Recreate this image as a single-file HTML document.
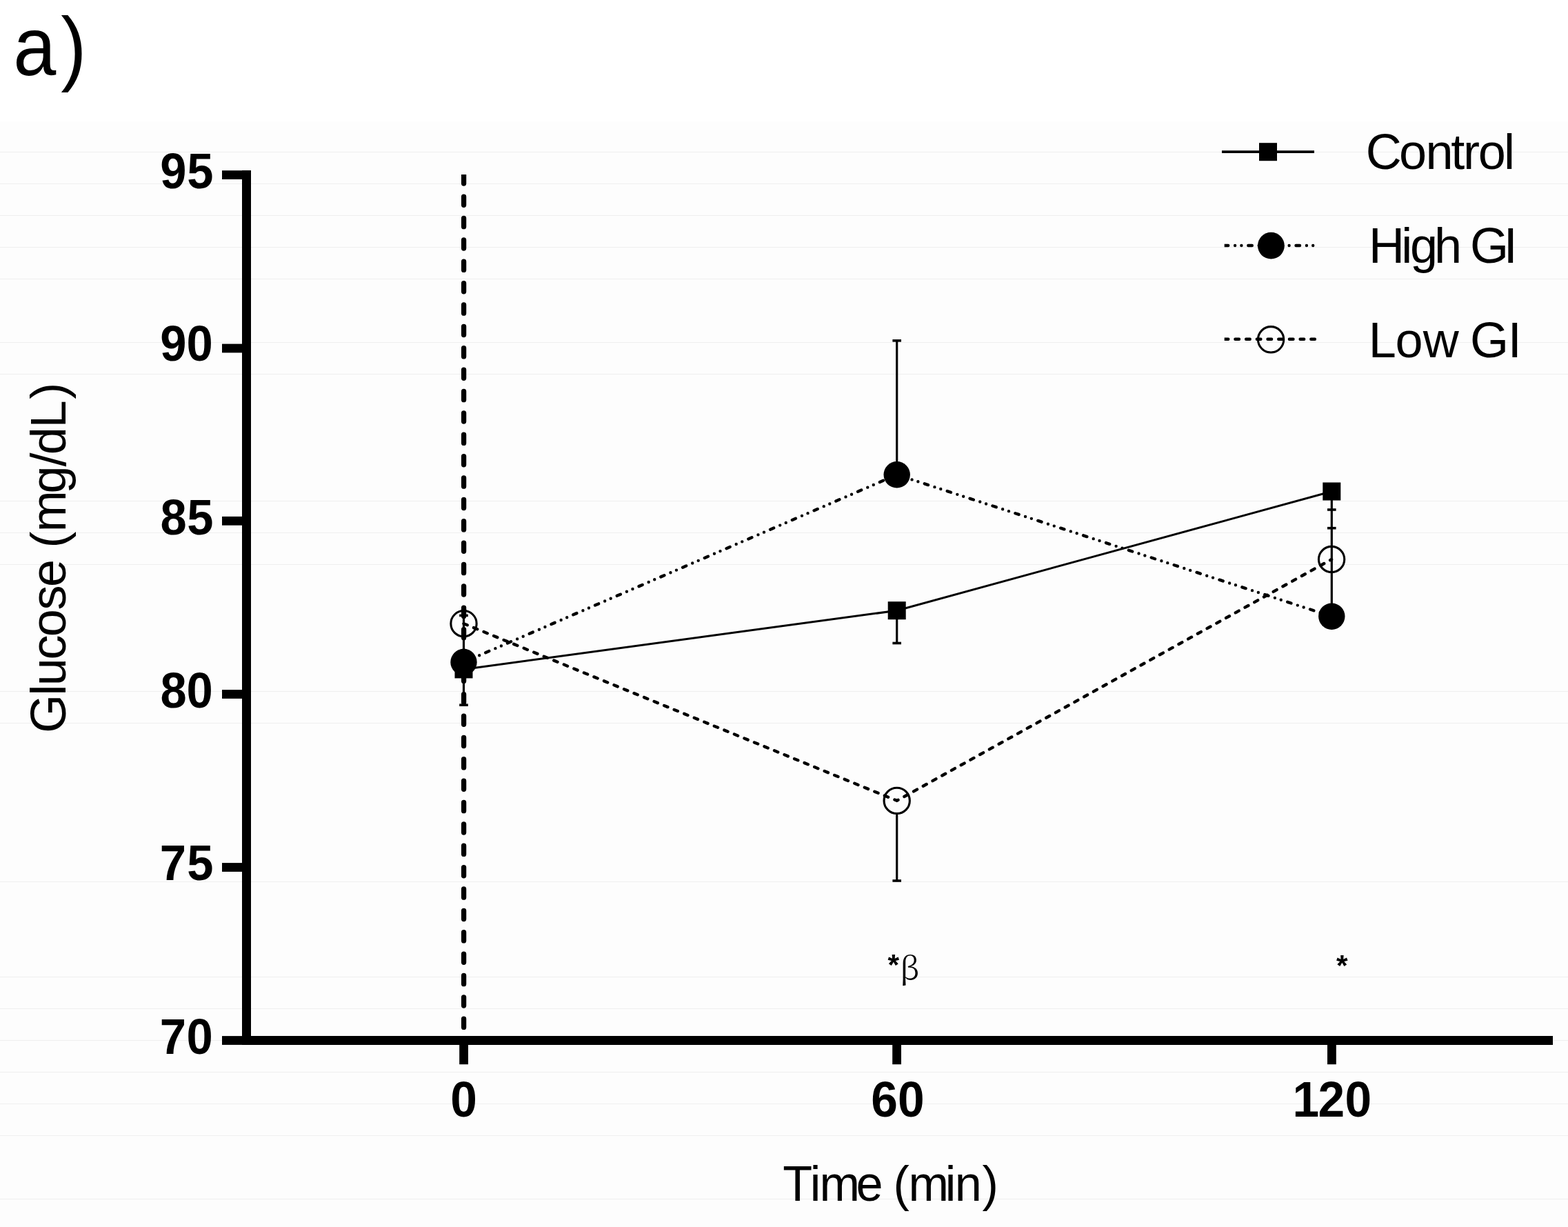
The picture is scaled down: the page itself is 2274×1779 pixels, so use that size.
<!DOCTYPE html><html><head><meta charset="utf-8"><title>Glucose</title><style>html,body{margin:0;padding:0;background:#fdfdfd;}svg{display:block;}</style></head><body>
<svg width="2274" height="1779" viewBox="0 0 2274 1779">
<rect width="2274" height="1779" fill="#fdfdfd"/>
<rect width="2274" height="176" fill="#ffffff"/>
<rect x="0" y="220" width="2274" height="1" fill="#efefef"/>
<rect x="0" y="266" width="2274" height="1" fill="#efefef"/>
<rect x="0" y="312" width="2274" height="1" fill="#efefef"/>
<rect x="0" y="358" width="2274" height="1" fill="#efefef"/>
<rect x="0" y="404" width="2274" height="1" fill="#efefef"/>
<rect x="0" y="496" width="2274" height="1" fill="#efefef"/>
<rect x="0" y="542" width="2274" height="1" fill="#efefef"/>
<rect x="0" y="726" width="2274" height="1" fill="#efefef"/>
<rect x="0" y="772" width="2274" height="1" fill="#efefef"/>
<rect x="0" y="818" width="2274" height="1" fill="#efefef"/>
<rect x="0" y="1002" width="2274" height="1" fill="#efefef"/>
<rect x="0" y="1048" width="2274" height="1" fill="#efefef"/>
<rect x="0" y="1278" width="2274" height="1" fill="#efefef"/>
<rect x="0" y="1416" width="2274" height="1" fill="#efefef"/>
<rect x="0" y="1462" width="2274" height="1" fill="#efefef"/>
<rect x="0" y="1508" width="2274" height="1" fill="#efefef"/>
<rect x="0" y="1554" width="2274" height="1" fill="#efefef"/>
<rect x="0" y="1600" width="2274" height="1" fill="#efefef"/>
<rect x="0" y="1646" width="2274" height="1" fill="#efefef"/>
<rect x="0" y="1738" width="2274" height="1" fill="#efefef"/>
<text x="18.8 93.2" y="109.2" font-family='"Liberation Sans", Arial, sans-serif' font-weight="normal" font-size="120"  transform="matrix(0.93,0,0,1,1.67,0)">a)</text>
<g fill="#000">
<rect x="351" y="247" width="13" height="1268"/>
<rect x="351" y="1502" width="1901" height="13"/>
<rect x="322" y="247.2" width="42" height="12.8"/>
<rect x="322" y="498.6" width="42" height="12.8"/>
<rect x="322" y="748.9" width="42" height="12.8"/>
<rect x="322" y="1000.1" width="42" height="12.8"/>
<rect x="322" y="1251.1" width="42" height="12.8"/>
<rect x="322" y="1502.1" width="42" height="12.8"/>
<rect x="666.2" y="1514" width="12.8" height="29.2"/>
<rect x="1294.2" y="1514" width="12.8" height="29.2"/>
<rect x="1925" y="1514" width="12.8" height="29.2"/>
</g>
<text x="232.1 272.91" y="272.6" font-family='"Liberation Sans", Arial, sans-serif' font-weight="bold" font-size="72"  transform="matrix(0.955,0,0,1,10.56,0)">95</text>
<text x="232.1 272.28" y="523.4" font-family='"Liberation Sans", Arial, sans-serif' font-weight="bold" font-size="72"  transform="matrix(0.955,0,0,1,10.56,0)">90</text>
<text x="232.31 272.91" y="774.8" font-family='"Liberation Sans", Arial, sans-serif' font-weight="bold" font-size="72"  transform="matrix(0.955,0,0,1,10.56,0)">85</text>
<text x="232.31 272.28" y="1025.7" font-family='"Liberation Sans", Arial, sans-serif' font-weight="bold" font-size="72"  transform="matrix(0.955,0,0,1,10.56,0)">80</text>
<text x="231.51 272.91" y="1276" font-family='"Liberation Sans", Arial, sans-serif' font-weight="bold" font-size="72"  transform="matrix(0.955,0,0,1,10.56,0)">75</text>
<text x="231.51 272.28" y="1527.6" font-family='"Liberation Sans", Arial, sans-serif' font-weight="bold" font-size="72"  transform="matrix(0.955,0,0,1,10.56,0)">70</text>
<text x="653.15" y="1619.5" font-family='"Liberation Sans", Arial, sans-serif' font-weight="bold" font-size="72"  transform="matrix(0.965,0,0,1,22.96,0)">0</text>
<text x="1263.06 1303.37" y="1619.5" font-family='"Liberation Sans", Arial, sans-serif' font-weight="bold" font-size="72"  transform="matrix(0.965,0,0,1,44.3,0)">60</text>
<text x="1874.36 1912.78 1953.15" y="1619.5" font-family='"Liberation Sans", Arial, sans-serif' font-weight="bold" font-size="72"  transform="matrix(0.965,0,0,1,65.76,0)">120</text>
<text x="1135.18 1175.78 1189.86 1244.31 1284.35 1299.62 1322.17 1376.8 1391.2 1431.97" y="1740.7" font-family='"Liberation Sans", Arial, sans-serif' font-weight="normal" font-size="72"  transform="matrix(0.975,0,0,1,28.42,0)">Time (min)</text>
<g transform="translate(94.5,0) rotate(-90)"><text x="-1062.72 -1008.55 -994.28 -956.46 -923.32 -884.4 -850.96 -810.92 -794.56 -771.28 -715.42 -676.6 -659.22 -620.61 -578.82" y="0" font-family='"Liberation Sans", Arial, sans-serif' font-weight="normal" font-size="72" >Glucose (mg/dL)</text></g>
<clipPath id="cv"><rect x="600" y="253" width="150" height="1300"/></clipPath>
<line x1="672.6" y1="253" x2="672.6" y2="1490" stroke="#000" stroke-width="7.3" stroke-linecap="round" stroke-dasharray="12.2 19.17" stroke-dashoffset="-0.78" clip-path="url(#cv)"/>
<g stroke="#000" stroke-width="3.2" fill="none">
<line x1="672.5" y1="892.4" x2="672.5" y2="1022.2"/>
<line x1="1300.7" y1="493.9" x2="1300.7" y2="688"/>
<line x1="1300.7" y1="885" x2="1300.7" y2="932.5"/>
<line x1="1300.7" y1="1180" x2="1300.7" y2="1277"/>
<line x1="1931.3" y1="712" x2="1931.3" y2="894"/>
</g>
<g stroke="#000" stroke-width="3.6">
<line x1="666.2" y1="892.4" x2="678.8" y2="892.4"/>
<line x1="666.2" y1="1022.2" x2="678.8" y2="1022.2"/>
<line x1="1294.4" y1="493.9" x2="1307" y2="493.9"/>
<line x1="1294.4" y1="932.5" x2="1307" y2="932.5"/>
<line x1="1294.4" y1="1277" x2="1307" y2="1277"/>
<line x1="1925" y1="739" x2="1937.6" y2="739"/>
<line x1="1925" y1="765.7" x2="1937.6" y2="765.7"/>
</g>
<polyline points="672.5,970.4 1300.7,885.2 1931.3,712.5" fill="none" stroke="#000" stroke-width="3"/>
<polyline points="672.5,960 1300.7,688.3 1931.3,893.7" fill="none" stroke="#000" stroke-width="4.4" stroke-linecap="round" stroke-dasharray="5.5 9.9 0 9.3 0 9.9"/>
<polyline points="672.5,904.2 1300.7,1160.9 1931.1,811" fill="none" stroke="#000" stroke-width="4.4" stroke-linecap="round" stroke-dasharray="5.6 10.1"/>
<rect x="659.5" y="957.4" width="26" height="26" fill="#000"/>
<rect x="1287.7" y="872.2" width="26" height="26" fill="#000"/>
<rect x="1918.3" y="699.5" width="26" height="26" fill="#000"/>
<circle cx="672.5" cy="960" r="19.2" fill="#000"/>
<circle cx="1300.7" cy="688.3" r="19.2" fill="#000"/>
<circle cx="1931.3" cy="893.7" r="19.2" fill="#000"/>
<circle cx="672.5" cy="904.2" r="18.65" fill="none" stroke="#000" stroke-width="3.1"/>
<circle cx="1300.7" cy="1160.9" r="18.65" fill="none" stroke="#000" stroke-width="3.1"/>
<circle cx="1931.1" cy="811" r="18.65" fill="none" stroke="#000" stroke-width="3.1"/>
<line x1="1772" y1="220.2" x2="1906" y2="220.2" stroke="#000" stroke-width="3.7"/>
<rect x="1826" y="207.2" width="26" height="26" fill="#000"/>
<clipPath id="cl"><rect x="1775.7" y="150" width="200" height="400"/></clipPath>
<line clip-path="url(#cl)" x1="1775.7" y1="356" x2="1907.5" y2="356" stroke="#000" stroke-width="4.4" stroke-linecap="round" stroke-dasharray="5.5 9.9 0 9.3 0 9.9" />
<circle cx="1843.4" cy="356.2" r="19.4" fill="#000"/>
<line clip-path="url(#cl)" x1="1775.7" y1="491.7" x2="1910" y2="491.7" stroke="#000" stroke-width="4.4" stroke-linecap="round" stroke-dasharray="5.6 10.1" />
<circle cx="1843.1" cy="492.3" r="18.65" fill="none" stroke="#000" stroke-width="3.1"/>
<text x="1980.84 2028.88 2067.42 2104.21 2122.12 2143.68 2180.95" y="244.8" font-family='"Liberation Sans", Arial, sans-serif' font-weight="normal" font-size="72" >Control</text>
<text x="1984.99 2032.18 2044.98 2079.91 2119.95 2131.88 2180.66" y="380.8" font-family='"Liberation Sans", Arial, sans-serif' font-weight="normal" font-size="72" >High GI</text>
<text x="1984.69 2023.48 2063.71 2115.7 2131.88 2186.66" y="517.5" font-family='"Liberation Sans", Arial, sans-serif' font-weight="normal" font-size="72" >Low GI</text>
<text x="1304.99" y="1420.5" transform="matrix(1.05,0,0,1,-65.47,0)" font-family='"Noto Serif CJK SC", "Liberation Serif", serif' font-size="44.4">β</text>
<text x="1287.58" y="1412.61" font-family='"Liberation Sans", Arial, sans-serif' font-weight="bold" font-size="42.6" >*</text>
<text x="1937.98" y="1414.21" font-family='"Liberation Sans", Arial, sans-serif' font-weight="bold" font-size="42.6" >*</text>
</svg></body></html>
